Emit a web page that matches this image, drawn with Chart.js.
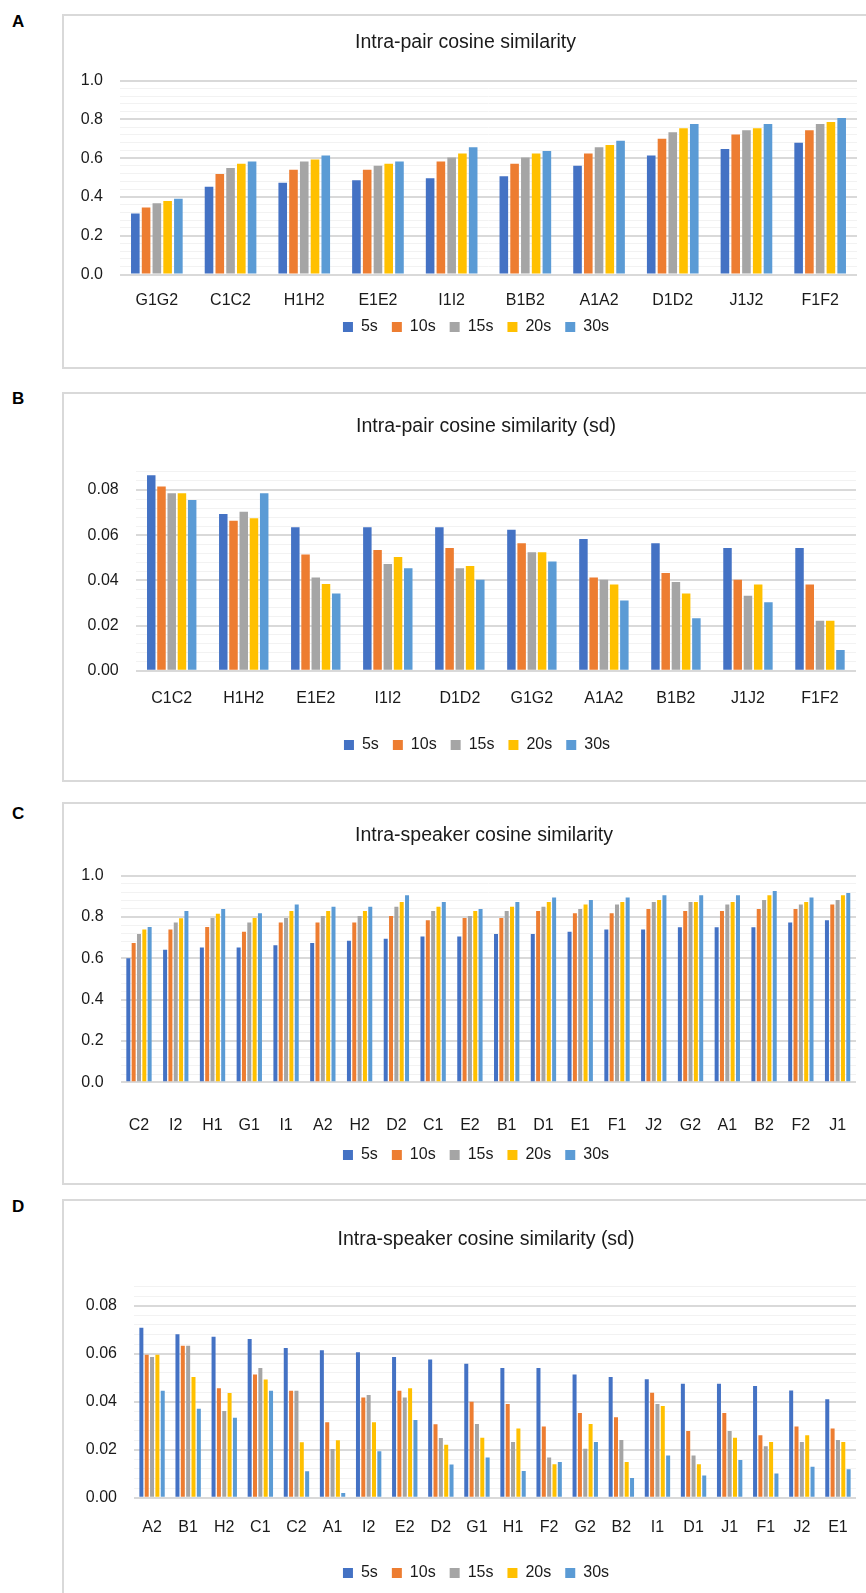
<!DOCTYPE html>
<html>
<head>
<meta charset="utf-8">
<script src="https://cdn.jsdelivr.net/npm/chart.js@4/dist/chart.umd.min.js"></script>
<style>
  html, body { margin: 0; padding: 0; background: #fff; }
  body { width: 866px; height: 1593px; overflow: hidden; position: relative; font-family: "Liberation Sans", Arial, sans-serif; }
  .box { position: absolute; border: 2px solid #d9d9d9; box-sizing: border-box; }
  .letter { position: absolute; font-weight: bold; font-size: 17px; color: #000; }
  .holder { position: absolute; }
</style>
</head>
<body>
<div class="letter" style="left:12px;top:12px;">A</div>
<div class="letter" style="left:12px;top:389px;">B</div>
<div class="letter" style="left:12px;top:804px;">C</div>
<div class="letter" style="left:12px;top:1197px;">D</div>

<div class="box" style="left:62px;top:14px;width:830px;height:355px;"></div>
<div class="box" style="left:62px;top:392px;width:870px;height:390px;"></div>
<div class="box" style="left:62px;top:802px;width:870px;height:383px;"></div>
<div class="box" style="left:62px;top:1199px;width:870px;height:420px;"></div>

<div class="holder" id="hA"><canvas id="cA"></canvas></div>
<div class="holder" id="hB"><canvas id="cB"></canvas></div>
<div class="holder" id="hC"><canvas id="cC"></canvas></div>
<div class="holder" id="hD"><canvas id="cD"></canvas></div>

<script>
// ---------- DATA ----------
const seriesNames = ['5s', '10s', '15s', '20s', '30s'];
const seriesColors = ['#4472C4', '#ED7D31', '#A5A5A5', '#FFC000', '#5B9BD5'];

// Panel A: Intra-pair cosine similarity
const pairCatsA = ['G1G2', 'C1C2', 'H1H2', 'E1E2', 'I1I2', 'B1B2', 'A1A2', 'D1D2', 'J1J2', 'F1F2'];
const pairA_5s  = [0.315, 0.453, 0.474, 0.486, 0.497, 0.507, 0.561, 0.614, 0.647, 0.680];
const pairA_10s = [0.346, 0.519, 0.540, 0.540, 0.583, 0.571, 0.625, 0.701, 0.723, 0.744];
const pairA_15s = [0.368, 0.550, 0.583, 0.561, 0.604, 0.604, 0.657, 0.734, 0.744, 0.777];
const pairA_20s = [0.379, 0.571, 0.593, 0.571, 0.625, 0.625, 0.668, 0.754, 0.754, 0.787];
const pairA_30s = [0.391, 0.583, 0.614, 0.583, 0.657, 0.637, 0.690, 0.777, 0.777, 0.808];

// Panel B: Intra-pair cosine similarity (sd)
const pairCatsB = ['C1C2', 'H1H2', 'E1E2', 'I1I2', 'D1D2', 'G1G2', 'A1A2', 'B1B2', 'J1J2', 'F1F2'];
const pairB_5s  = [0.0865, 0.0694, 0.0635, 0.0635, 0.0635, 0.0624, 0.0583, 0.0564, 0.0543, 0.0543];
const pairB_10s = [0.0815, 0.0664, 0.0514, 0.0534, 0.0543, 0.0564, 0.0413, 0.0432, 0.0403, 0.0382];
const pairB_15s = [0.0785, 0.0704, 0.0413, 0.0472, 0.0453, 0.0524, 0.0403, 0.0393, 0.0332, 0.0221];
const pairB_20s = [0.0785, 0.0675, 0.0384, 0.0503, 0.0463, 0.0524, 0.0382, 0.0342, 0.0382, 0.0221];
const pairB_30s = [0.0756, 0.0785, 0.0342, 0.0453, 0.0403, 0.0483, 0.0311, 0.0232, 0.0303, 0.0092];

// Panel C: Intra-speaker cosine similarity
const spkCatsC = ['C2', 'I2', 'H1', 'G1', 'I1', 'A2', 'H2', 'D2', 'C1', 'E2', 'B1', 'D1', 'E1', 'F1', 'J2', 'G2', 'A1', 'B2', 'F2', 'J1'];
const spkC_5s  = [0.600, 0.642, 0.653, 0.653, 0.663, 0.674, 0.685, 0.695, 0.706, 0.706, 0.718, 0.718, 0.729, 0.740, 0.740, 0.750, 0.750, 0.750, 0.773, 0.784];
const spkC_10s = [0.674, 0.740, 0.752, 0.729, 0.773, 0.773, 0.773, 0.805, 0.784, 0.795, 0.795, 0.829, 0.818, 0.818, 0.839, 0.829, 0.829, 0.839, 0.839, 0.861];
const spkC_15s = [0.718, 0.773, 0.795, 0.773, 0.795, 0.805, 0.805, 0.850, 0.829, 0.805, 0.829, 0.850, 0.839, 0.861, 0.873, 0.873, 0.861, 0.882, 0.861, 0.882];
const spkC_20s = [0.740, 0.794, 0.816, 0.795, 0.829, 0.829, 0.829, 0.873, 0.850, 0.829, 0.850, 0.873, 0.861, 0.873, 0.882, 0.873, 0.873, 0.905, 0.873, 0.905];
const spkC_30s = [0.752, 0.829, 0.839, 0.818, 0.861, 0.850, 0.850, 0.905, 0.873, 0.839, 0.873, 0.894, 0.882, 0.894, 0.905, 0.905, 0.905, 0.926, 0.894, 0.916];

// Panel D: Intra-speaker cosine similarity (sd)
const spkCatsD = ['A2', 'B1', 'H2', 'C1', 'C2', 'A1', 'I2', 'E2', 'D2', 'G1', 'H1', 'F2', 'G2', 'B2', 'I1', 'D1', 'J1', 'F1', 'J2', 'E1'];
const spkD_5s  = [0.0708, 0.0681, 0.0671, 0.0661, 0.0624, 0.0614, 0.0606, 0.0586, 0.0576, 0.0558, 0.0540, 0.0540, 0.0513, 0.0503, 0.0494, 0.0475, 0.0475, 0.0465, 0.0447, 0.0410];
const spkD_10s = [0.0596, 0.0633, 0.0456, 0.0513, 0.0446, 0.0314, 0.0418, 0.0446, 0.0306, 0.0400, 0.0390, 0.0297, 0.0353, 0.0335, 0.0437, 0.0278, 0.0353, 0.0260, 0.0297, 0.0288];
const spkD_15s = [0.0586, 0.0633, 0.0361, 0.0540, 0.0446, 0.0203, 0.0428, 0.0418, 0.0249, 0.0307, 0.0232, 0.0167, 0.0204, 0.0240, 0.0390, 0.0176, 0.0278, 0.0214, 0.0232, 0.0240];
const spkD_20s = [0.0596, 0.0503, 0.0436, 0.0493, 0.0231, 0.0239, 0.0314, 0.0456, 0.0221, 0.0250, 0.0288, 0.0139, 0.0307, 0.0149, 0.0382, 0.0139, 0.0250, 0.0232, 0.0260, 0.0232];
const spkD_30s = [0.0446, 0.0371, 0.0333, 0.0446, 0.0110, 0.0020, 0.0194, 0.0324, 0.0138, 0.0167, 0.0111, 0.0149, 0.0232, 0.0082, 0.0176, 0.0092, 0.0157, 0.0101, 0.0129, 0.0119];

// ---------- RENDER ----------
const textColor = '#1a1a1a';
const fontFam = '"Liberation Sans", Arial, sans-serif';
const TITLE_SIZE = 19.5;
const LEG_PAD = 14;

// shifts the title and legend horizontally to their own centres
const shiftPlugin = {
  id: 'shiftBoxes',
  afterLayout(chart, args, opts) {
    const t = chart.titleBlock;
    if (t && opts.titleDx) { t.left += opts.titleDx; t.right += opts.titleDx; }
    const l = chart.legend;
    if (l && opts.legendDx) { l.left += opts.legendDx; l.right += opts.legendDx; }
  }
};

function makePanel(p) {
  const holder = document.getElementById(p.holder);
  const canvas = document.getElementById(p.canvas);
  const W = Math.round(p.plotRight - p.left);
  const titleH = TITLE_SIZE * 1.2;
  const plotTop = p.plotTop - p.top;
  const plotBottom = p.plotBottom - p.top;
  const titleCenter = p.titleY - p.top;
  const padTop = titleCenter - titleH / 2;
  const padBottom = plotTop - padTop - titleH;
  const labelCenter = p.xLabelY - p.top;
  const gap = labelCenter - 9.6 - plotBottom;
  const legendCenter = p.legendY - p.top;
  const xh = legendCenter - (LEG_PAD + 8) - plotBottom;
  const H = Math.round(plotBottom + xh + LEG_PAD + 26);
  holder.style.left = p.left + 'px';
  holder.style.top = p.top + 'px';
  holder.style.width = W + 'px';
  holder.style.height = H + 'px';
  canvas.width = W; canvas.height = H;
  canvas.style.width = W + 'px'; canvas.style.height = H + 'px';
  const mid = p.left + W / 2;

  const isMajor = v => Math.abs(v / p.major - Math.round(v / p.major)) < 1e-6;

  new Chart(canvas, {
    type: 'bar',
    data: {
      labels: p.labels,
      datasets: p.series.map((d, i) => ({
        label: seriesNames[i],
        data: d,
        backgroundColor: seriesColors[i],
        borderWidth: 0,
        categoryPercentage: p.catPct,
        barPercentage: p.barPct
      }))
    },
    plugins: [shiftPlugin],
    options: {
      responsive: false,
      animation: false,
      devicePixelRatio: 1,
      layout: { padding: 0 },
      plugins: {
        shiftBoxes: { titleDx: p.titleX - mid, legendDx: p.legendX - mid },
        title: {
          display: true,
          text: p.title,
          color: textColor,
          font: { family: fontFam, size: TITLE_SIZE, weight: 'normal' },
          padding: { top: padTop, bottom: padBottom }
        },
        legend: {
          display: true,
          position: 'bottom',
          labels: {
            boxWidth: 10, boxHeight: 10, padding: LEG_PAD,
            color: textColor,
            font: { family: fontFam, size: 16 }
          }
        },
        tooltip: { enabled: false }
      },
      scales: {
        x: {
          grid: {
            display: true, drawOnChartArea: false, drawTicks: true,
            tickLength: gap - 3, color: 'rgba(0,0,0,0)', tickColor: 'rgba(0,0,0,0)'
          },
          border: { display: false },
          ticks: {
            color: textColor, font: { family: fontFam, size: 16 },
            padding: 3, maxRotation: 0, minRotation: 0, autoSkip: false
          },
          afterFit: s => { s.height = xh; }
        },
        y: {
          min: 0, max: p.max,
          grid: {
            drawTicks: false,
            color: c => isMajor(c.tick.value) ? '#d9d9d9' : '#f2f2f2',
            lineWidth: c => isMajor(c.tick.value) ? 2 : 1
          },
          border: { display: false },
          ticks: {
            stepSize: p.minor,
            maxTicksLimit: 200,
            autoSkip: false,
            padding: 17,
            color: textColor, font: { family: fontFam, size: 16 },
            callback: v => isMajor(v) ? Number(v).toFixed(p.decimals) : ''
          },
          afterFit: s => { s.width = p.plotLeft - p.left; }
        }
      }
    }
  });
}

makePanel({
  holder: 'hA', canvas: 'cA', title: 'Intra-pair cosine similarity',
  labels: pairCatsA, series: [pairA_5s, pairA_10s, pairA_15s, pairA_20s, pairA_30s],
  left: 63, top: 14, plotLeft: 120, plotRight: 857,
  titleX: 465.5, legendX: 476,
  titleY: 43, plotTop: 80.7, plotBottom: 274.5, xLabelY: 301, legendY: 327,
  max: 1.0, minor: 0.04, major: 0.2, decimals: 1, catPct: 0.73, barPct: 0.8
});
makePanel({
  holder: 'hB', canvas: 'cB', title: 'Intra-pair cosine similarity (sd)',
  labels: pairCatsB, series: [pairB_5s, pairB_10s, pairB_15s, pairB_20s, pairB_30s],
  left: 63, top: 392, plotLeft: 135.7, plotRight: 856,
  titleX: 486, legendX: 477,
  titleY: 427, plotTop: 471.9, plotBottom: 670.7, xLabelY: 699, legendY: 745,
  max: 0.088, minor: 0.004, major: 0.02, decimals: 2, catPct: 0.71, barPct: 0.83
});
makePanel({
  holder: 'hC', canvas: 'cC', title: 'Intra-speaker cosine similarity',
  labels: spkCatsC, series: [spkC_5s, spkC_10s, spkC_15s, spkC_20s, spkC_30s],
  left: 63, top: 802, plotLeft: 120.6, plotRight: 856,
  titleX: 484, legendX: 476,
  titleY: 835.5, plotTop: 875.7, plotBottom: 1082.3, xLabelY: 1126, legendY: 1155,
  max: 1.0, minor: 0.04, major: 0.2, decimals: 1, catPct: 0.725, barPct: 0.75
});
makePanel({
  holder: 'hD', canvas: 'cD', title: 'Intra-speaker cosine similarity (sd)',
  labels: spkCatsD, series: [spkD_5s, spkD_10s, spkD_15s, spkD_20s, spkD_30s],
  left: 63, top: 1199, plotLeft: 134, plotRight: 856,
  titleX: 486, legendX: 476,
  titleY: 1239.5, plotTop: 1286.5, plotBottom: 1497.7, xLabelY: 1528, legendY: 1573,
  max: 0.088, minor: 0.004, major: 0.02, decimals: 2, catPct: 0.74, barPct: 0.75
});
</script>
</body>
</html>
